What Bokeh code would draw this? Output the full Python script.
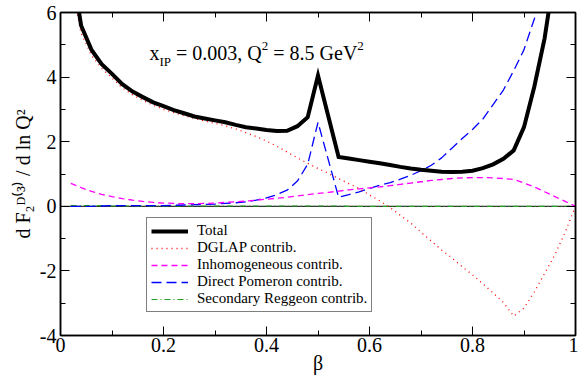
import math
from bokeh.plotting import figure
from bokeh.models import (Range1d, LinearAxis, FixedTicker, Legend, LegendItem, Label, Span,
                          CustomLabelingPolicy)
from bokeh.embed import file_html
from bokeh.resources import INLINE

NaN = float("nan")

# ---------------- data ----------------
beta = [0.02, 0.04, 0.06, 0.08, 0.10, 0.12, 0.14, 0.16, 0.18, 0.20,
        0.22, 0.24, 0.26, 0.28, 0.30, 0.32, 0.34, 0.36, 0.38, 0.40,
        0.42, 0.44, 0.46, 0.48, 0.50, 0.52, 0.54, 0.56, 0.58, 0.60,
        0.62, 0.64, 0.66, 0.68, 0.70, 0.72, 0.74, 0.76, 0.78, 0.80,
        0.82, 0.84, 0.86, 0.88, 0.90, 0.92, 0.94, 0.96, 0.98, 1.00]

total = [7.6, 5.6, 4.85, 4.4, 4.1, 3.78, 3.55, 3.38, 3.22, 3.1,
         2.98, 2.88, 2.78, 2.72, 2.66, 2.6, 2.52, 2.45, 2.41, 2.36,
         2.33, 2.34, 2.48, 2.76, 4.05, 2.79, 1.53, 1.48, 1.43, 1.38,
         1.33, 1.28, 1.22, 1.17, 1.13, 1.1, 1.07, 1.06, 1.07, 1.1,
         1.18, 1.3, 1.47, 1.73, 2.45, 3.7, 5.2, 7.3, NaN, NaN]

dglap = [7.0, 5.35, 4.68, 4.27, 3.97, 3.67, 3.45, 3.28, 3.13, 3.0,
         2.9, 2.8, 2.72, 2.64, 2.57, 2.49, 2.4, 2.28, 2.16, 2.02,
         1.86, 1.68, 1.5, 1.33, 1.17, 1.02, 0.86, 0.7, 0.55, 0.35,
         0.17, -0.04, -0.28, -0.52, -0.8, -1.08, -1.35, -1.6, -1.87, -2.12,
         -2.4, -2.68, -2.98, -3.4, -3.15, -2.65, -2.08, -1.5, -0.8, 0.0]

inhomogeneous = [0.71, 0.58, 0.46, 0.37, 0.3, 0.24, 0.19, 0.15, 0.12, 0.1,
                 0.09, 0.08, 0.08, 0.09, 0.1, 0.12, 0.14, 0.16, 0.19, 0.22,
                 0.25, 0.28, 0.32, 0.36, 0.4, 0.43, 0.47, 0.51, 0.54, 0.57,
                 0.6, 0.64, 0.68, 0.72, 0.76, 0.8, 0.83, 0.86, 0.88, 0.89,
                 0.89, 0.88, 0.86, 0.83, 0.72, 0.6, 0.45, 0.3, 0.15, 0.0]

direct_pomeron = [0.0, 0.0, 0.0, 0.01, 0.02, 0.02, 0.02, 0.02, 0.02, 0.02,
                  0.03, 0.04, 0.05, 0.06, 0.07, 0.09, 0.11, 0.14, 0.19, 0.26,
                  0.36, 0.5, 0.78, 1.3, 2.6, 1.44, 0.28, 0.36, 0.45, 0.55,
                  0.65, 0.73, 0.84, 0.96, 1.1, 1.27, 1.5, 1.8, 2.1, 2.38,
                  2.7, 3.15, 3.6, 4.2, 4.85, 5.8, 6.8, NaN, NaN, NaN]

secondary_reggeon = [0.02, 0.02, 0.02, 0.02, 0.01, 0.01, 0.01, 0.01, 0.01, 0.01,
                     0.01, 0.01, 0.01, 0.01, 0.01, 0.01, 0.01, 0.01, 0.01, 0.01,
                     0.01, 0.01, 0.01, 0.01, 0.01, 0.01, 0.01, 0.0, 0.0, 0.0,
                     0.0, 0.0, 0.0, 0.0, 0.0, 0.0, 0.0, 0.0, 0.0, 0.0,
                     0.0, 0.0, 0.0, 0.0, 0.0, 0.0, 0.0, 0.0, 0.0, 0.0]

series_labels = ["Total", "DGLAP contrib.", "Inhomogeneous contrib.",
                 "Direct Pomeron contrib.", "Secondary Reggeon contrib."]

x_tick_values = [0, 0.2, 0.4, 0.6, 0.8, 1]
x_tick_labels = ["0", "0.2", "0.4", "0.6", "0.8", "1"]
x_minor_ticks = [0.1, 0.3, 0.5, 0.7, 0.9]
y_tick_values = [-4, -2, 0, 2, 4, 6]
y_tick_labels = ["-4", "-2", "0", "2", "4", "6"]
y_minor_ticks = [-3, -1, 1, 3, 5]

x_label = "β"
y_label = "d F₂ᴰ⁽³⁾ / d ln Q²"

FONT = "Liberation Serif"

p = figure(width=578, height=381, x_range=Range1d(0, 1), y_range=Range1d(-4, 6),
           output_backend="svg", toolbar_location=None,
           x_axis_location=None, y_axis_location=None,
           min_border_left=60, min_border_right=3, min_border_top=12, min_border_bottom=46)
p.xgrid.visible = False
p.ygrid.visible = False
p.outline_line_color = "black"
p.outline_line_width = 1.5
p.background_fill_color = "white"
p.border_fill_color = "white"

hide_labels = CustomLabelingPolicy(code="""
try { for (let i = 0; i < indices.size; i++) { indices.unset(i) } } catch (e) {}
return indices
""")


def make_axis(ticks, minor, labels, show_labels, standoff):
    ax = LinearAxis(ticker=FixedTicker(ticks=ticks, minor_ticks=minor))
    ax.major_label_overrides = {v: l for v, l in zip(ticks, labels)}
    ax.axis_line_color = "black"
    ax.axis_line_width = 1.5
    ax.major_tick_in = 9
    ax.major_tick_out = 0
    ax.minor_tick_in = 5
    ax.minor_tick_out = 0
    ax.major_tick_line_width = 1
    ax.minor_tick_line_width = 1
    ax.major_label_text_font = FONT
    ax.major_label_text_color = "black"
    if show_labels:
        ax.major_label_text_font_size = "20px"
        ax.major_label_standoff = standoff
    else:
        ax.major_label_policy = hide_labels
        ax.major_label_text_font_size = "0px"
        ax.major_label_standoff = 0
    return ax


xb = make_axis(x_tick_values, x_minor_ticks, x_tick_labels, True, 2)
xb.axis_label = x_label
xb.axis_label_text_font = FONT
xb.axis_label_text_font_style = "normal"
xb.axis_label_text_font_size = "20px"
xb.axis_label_text_color = "black"
xb.axis_label_standoff = -3
p.add_layout(xb, "below")

yl = make_axis(y_tick_values, y_minor_ticks, y_tick_labels, True, 4)
yl.axis_label = y_label
yl.axis_label_text_font = FONT
yl.axis_label_text_font_style = "normal"
yl.axis_label_text_font_size = "20px"
yl.axis_label_text_color = "black"
yl.axis_label_standoff = 3
p.add_layout(yl, "left")
p.add_layout(make_axis(x_tick_values, x_minor_ticks, x_tick_labels, False, 0), "above")
p.add_layout(make_axis(y_tick_values, y_minor_ticks, y_tick_labels, False, 0), "right")

p.add_layout(Span(location=0, dimension="width", line_color="black", line_width=1, level="underlay"))

r_reg = p.line(beta, secondary_reggeon, line_color="#22a022", line_width=1.2, line_dash="6 3 1 3")
r_pom = p.line(beta, direct_pomeron, line_color="#0000ff", line_width=1.3, line_dash="10 5")
r_inh = p.line(beta, inhomogeneous, line_color="#ff00ff", line_width=1.3, line_dash="6 4")
r_dgl = p.line(beta, dglap, line_color="#ff0000", line_width=1.3, line_dash="1 4")
r_tot = p.line(beta, total, line_color="black", line_width=4, line_join="miter")

legend = Legend(items=[LegendItem(label=series_labels[0], renderers=[r_tot]),
                       LegendItem(label=series_labels[1], renderers=[r_dgl]),
                       LegendItem(label=series_labels[2], renderers=[r_inh]),
                       LegendItem(label=series_labels[3], renderers=[r_pom]),
                       LegendItem(label=series_labels[4], renderers=[r_reg])],
                location=(86, 23), orientation="vertical",
                label_text_font=FONT, label_text_font_size="15px", label_text_color="black",
                glyph_width=37, glyph_height=16, label_height=16, spacing=0,
                padding=4, margin=0, label_standoff=9,
                border_line_color="black", border_line_width=1,
                background_fill_color="white", background_fill_alpha=1.0)
p.add_layout(legend)

# ---- annotation text: title with sub/superscripts ----
tx, ty = 0.1728, 4.737
title_parts = [("x", 0, 0, "20px"),
               ("IP", 10, -8, "13px"),
               ("= 0.003, Q", 26.6, 0, "20px"),
               ("2", 112.3, 7, "13px"),
               ("= 8.5 GeV", 123.8, 0, "20px"),
               ("2", 207.8, 7, "13px")]
for txt, dx, dy, fs in title_parts:
    p.add_layout(Label(x=tx, y=ty, text=txt, x_offset=dx, y_offset=dy,
                       text_font=FONT, text_font_size=fs, text_color="black",
                       text_align="left", text_baseline="alphabetic"))

open("out.html", "w").write(file_html(p, INLINE))
